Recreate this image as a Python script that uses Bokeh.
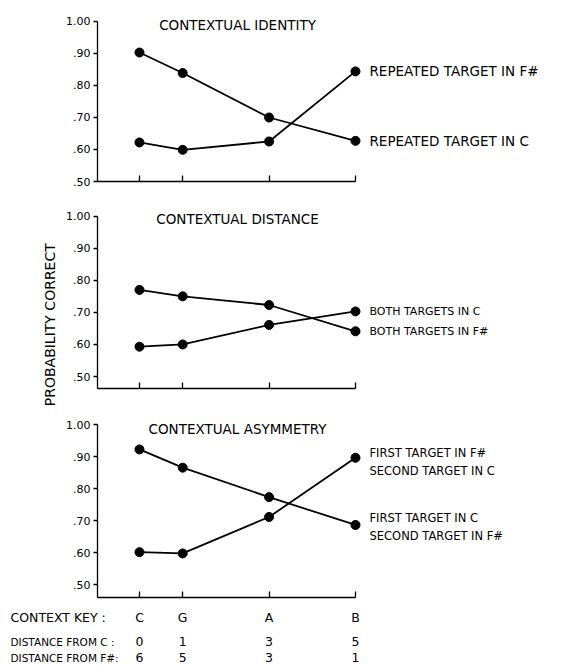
import numpy as np
from bokeh.plotting import figure
from bokeh.models import Range1d, FixedTicker
from bokeh.layouts import column, row
from bokeh.core.properties import value
from bokeh.embed import file_html
from bokeh.resources import INLINE

# ---- data ----
context_keys = ["C", "G", "A", "B"]
dist_from_c = [0, 1, 3, 5]
dist_from_fs = [6, 5, 3, 1]

identity_target_fs = [0.622, 0.599, 0.625, 0.844]
identity_target_c = [0.903, 0.839, 0.700, 0.627]

distance_both_c = [0.593, 0.600, 0.661, 0.703]
distance_both_fs = [0.770, 0.750, 0.723, 0.641]

asym_first_fs = [0.602, 0.598, 0.712, 0.897]
asym_first_c = [0.923, 0.866, 0.774, 0.687]

y_ticks = [0.5, 0.6, 0.7, 0.8, 0.9, 1.0]
y_tick_labels = [".50", ".60", ".70", ".80", ".90", "1.00"]

FONT = "DejaVu Sans"
PX_PER_UNIT = 43.2
X_START = -0.972
X_END = X_START + 483 / PX_PER_UNIT
STRIP_W = 62


def style_text(**kw):
    d = dict(text_font=value(FONT), text_color="black")
    d.update(kw)
    return d


def make_panel(height, border_top, border_bottom, y_start, y_end, title, title_y):
    p = figure(width=580 - STRIP_W, height=height,
               x_range=Range1d(X_START, X_END), y_range=Range1d(y_start, y_end),
               output_backend="svg", toolbar_location=None,
               min_border_left=97 - STRIP_W, min_border_right=0,
               min_border_top=border_top, min_border_bottom=border_bottom)
    p.outline_line_color = None
    p.xgrid.visible = False
    p.ygrid.visible = False

    ya = p.yaxis[0]
    ya.ticker = FixedTicker(ticks=y_ticks)
    ya.major_label_overrides = {t: s for t, s in zip(y_ticks, y_tick_labels)}
    ya.bounds = (y_start, 1.0)
    ya.minor_tick_line_color = None
    ya.major_tick_in = 0
    ya.major_tick_out = 4
    ya.major_label_standoff = 3
    ya.major_label_text_font = FONT
    ya.major_label_text_font_size = "11px"
    ya.major_label_text_color = "black"
    ya.axis_line_color = "black"
    ya.axis_line_width = 1.3
    ya.major_tick_line_width = 1.3

    xa = p.xaxis[0]
    xa.ticker = FixedTicker(ticks=dist_from_c)
    xa.bounds = (X_START, 5)
    xa.minor_tick_line_color = None
    xa.major_tick_in = 6
    xa.major_tick_out = 0
    xa.major_label_standoff = 0
    xa.major_label_overrides = {d: "" for d in dist_from_c}
    xa.major_label_text_font_size = "8px"
    xa.axis_line_color = "black"
    xa.axis_line_width = 1.3
    xa.major_tick_line_width = 1.3

    p.text(x=[2.27], y=[title_y], text=[title],
           **style_text(text_font_size="13.5px", text_align="center",
                        text_baseline="middle"))
    return p


def draw_series(p, ys):
    p.line(dist_from_c, ys, line_color="black", line_width=1.8)
    p.scatter(dist_from_c, ys, size=9, marker="circle",
              fill_color="black", line_color="black")


def right_label(p, y, text, size="11px", dy=0):
    p.text(x=[5], y=[y], x_offset=14, y_offset=dy, text=[text],
           **style_text(text_font_size=size, text_baseline="middle",
                        text_align="left"))


# ---- panel 1 ----
p1 = make_panel(203, 8, 22, 0.5, 1.0406, "CONTEXTUAL IDENTITY", 0.99)
draw_series(p1, identity_target_fs)
draw_series(p1, identity_target_c)
right_label(p1, identity_target_fs[-1], "REPEATED TARGET IN F#", "13.5px")
right_label(p1, identity_target_c[-1], "REPEATED TARGET IN C", "13.5px")

# ---- panel 2 ----
p2 = make_panel(208, 0, 23, 0.4626, 1.0396, "CONTEXTUAL DISTANCE", 0.99)
draw_series(p2, distance_both_c)
draw_series(p2, distance_both_fs)
right_label(p2, distance_both_c[-1], "BOTH TARGETS IN C", "11px")
right_label(p2, distance_both_fs[-1], "BOTH TARGETS IN F#", "11px")

# ---- panel 3 ----
p3 = make_panel(191, 0, 5, 0.4603, 1.0416, "CONTEXTUAL ASYMMETRY", 0.988)
draw_series(p3, asym_first_fs)
draw_series(p3, asym_first_c)
right_label(p3, asym_first_fs[-1], "FIRST TARGET IN F#", "11.5px", dy=-5)
right_label(p3, asym_first_fs[-1], "SECOND TARGET IN C", "11.5px", dy=13)
right_label(p3, asym_first_c[-1], "FIRST TARGET IN C", "11.5px", dy=-7)
right_label(p3, asym_first_c[-1], "SECOND TARGET IN F#", "11.5px", dy=11)

# ---- left strip with the shared y label ----
left = figure(width=STRIP_W, height=602, x_range=Range1d(0, STRIP_W), y_range=Range1d(0, 602),
              output_backend="svg", toolbar_location=None, min_border=0)
left.axis.visible = False
left.grid.visible = False
left.outline_line_color = None
left.text(x=[49], y=[602 - 322], text=["PROBABILITY  CORRECT"], angle=np.pi / 2,
          **style_text(text_font_size="14px", text_align="center",
                       text_baseline="middle"))

# ---- bottom key table ----
p4 = figure(width=580, height=63,
            x_range=Range1d(X_START - 97 / PX_PER_UNIT, X_END), y_range=Range1d(0, 63),
            output_backend="svg", toolbar_location=None, min_border=0)
p4.axis.visible = False
p4.grid.visible = False
p4.outline_line_color = None
row_y = [48, 24, 8]
label_x = X_START - 87 / PX_PER_UNIT
p4.text(x=[label_x], y=[row_y[0]], text=["CONTEXT KEY :"],
        **style_text(text_font_size="12.5px", text_align="left", text_baseline="middle"))
p4.text(x=[label_x], y=[row_y[1]], text=["DISTANCE FROM C :"],
        **style_text(text_font_size="10.5px", text_align="left", text_baseline="middle"))
p4.text(x=[label_x], y=[row_y[2]], text=["DISTANCE FROM F#:"],
        **style_text(text_font_size="10.5px", text_align="left", text_baseline="middle"))
p4.text(x=dist_from_c, y=[row_y[0]] * 4, text=context_keys,
        **style_text(text_font_size="12.5px", text_align="center", text_baseline="middle"))
p4.text(x=dist_from_c, y=[row_y[1]] * 4, text=[str(v) for v in dist_from_c],
        **style_text(text_font_size="12.5px", text_align="center", text_baseline="middle"))
p4.text(x=dist_from_c, y=[row_y[2]] * 4, text=[str(v) for v in dist_from_fs],
        **style_text(text_font_size="12.5px", text_align="center", text_baseline="middle"))

layout = column(row(left, column(p1, p2, p3, spacing=0), spacing=0), p4, spacing=0)
open("out.html", "w").write(file_html(layout, INLINE))
